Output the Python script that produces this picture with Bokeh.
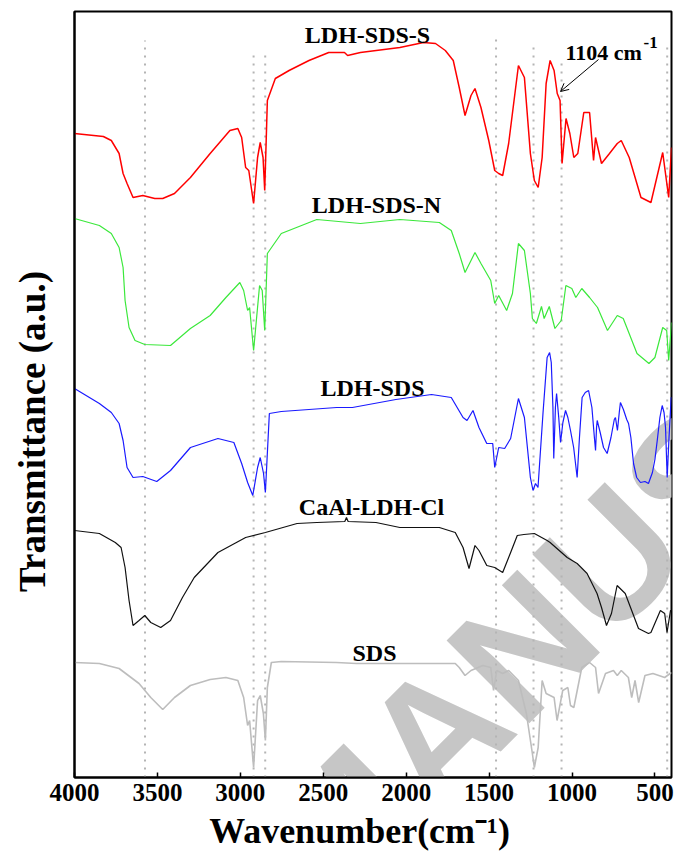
import math
from bokeh.plotting import figure
from bokeh.models import Range1d, FixedTicker, Label, Arrow, OpenHead
from bokeh.embed import file_html
from bokeh.resources import INLINE

# ---------------- data (wavenumber in cm-1, transmittance in a.u., offset stacked) -------------
red_w = [4000,3826,3778,3731,3707,3683,3647,3588,3516,3468,3397,3301,3182,3063,3015,2992,2968,2949,2920,2896,
         2880,2863,2853,2837,2789,2706,2586,2467,2372,2353,2276,2038,1895,1823,1764,1716,1680,1645,1609,1585,
         1549,1502,1466,1442,1418,1382,1323,1287,1251,1227,1204,1180,1156,1132,1108,1089,1072,1060,1036,1013,
         989,965,929,894,870,858,822,774,727,703,655,584,524,453,417,400]
red_t = [644,641,637,624,604,594,580,582,579,579,584,600,624,647,649,640,610,607,574,620,
         635,620,587,677,699,707,717,725,725,722,725,730,735,734,727,717,690,662,682,689,
         670,637,607,604,602,634,712,700,624,597,590,620,694,717,707,684,677,614,659,644,
         620,624,665,665,617,640,614,624,634,637,620,580,575,625,580,630]

green_w = [4000,3850,3778,3731,3707,3695,3671,3635,3576,3421,3301,3182,3087,3003,2980,2956,2944,2920,2884,2868,
           2853,2837,2753,2539,2276,2038,1800,1728,1680,1645,1585,1549,1490,1466,1442,1394,1359,1323,1287,1251,
           1239,1215,1184,1168,1137,1103,1065,1037,1001,977,941,894,846,786,727,691,608,536,500,453,
           429,417,400]
green_t = [559,552,544,530,510,477,450,437,433,432,449,462,480,495,487,467,470,427,492,487,
           447,524,544,558,554,558,555,547,524,505,525,514,497,474,482,467,484,534,527,484,
           459,454,471,459,471,449,457,492,489,480,489,480,470,447,462,459,424,414,420,450,
           447,417,455]

blue_w = [4000,3850,3778,3731,3707,3683,3647,3588,3504,3421,3301,3135,3039,2992,2956,2925,2896,2880,2860,2849,
          2825,2753,2419,2324,2062,1847,1728,1657,1633,1597,1561,1514,1478,1466,1442,1406,1370,1323,1287,1251,
          1235,1220,1205,1175,1150,1135,1125,1115,1110,1100,1093,1080,1069,1055,1039,1025,1009,990,969,955,
          939,920,900,880,865,858,852,848,830,810,788,765,745,738,726,715,708,690,670,659,
          645,629,610,587,560,539,515,500,486,470,456,445,436,426,415,402,400]
blue_t = [389,374,365,354,337,310,300,301,296,307,330,339,335,314,295,282,310,320,304,285,
          364,366,370,370,378,383,380,360,357,367,350,334,334,310,330,329,339,379,360,300,
          287,294,290,364,420,425,415,370,319,370,384,360,335,355,367,360,347,330,300,340,
          380,385,387,370,340,327,350,357,345,330,324,340,358,360,347,365,375,368,358,354,
          340,314,300,295,296,294,305,318,337,360,372,365,350,300,340,380,380]

black_w = [4000,3850,3754,3719,3695,3671,3647,3611,3576,3540,3480,3421,3349,3278,3135,2968,2849,2658,2539,2370,
           2360,2350,2182,2038,1800,1704,1657,1621,1585,1561,1514,1466,1418,1370,1330,1290,1227,1150,1132,1029,
           969,909,849,822,792,762,728,679,647,599,539,524,467,441,427,406,400]
black_t = [247,244,235,230,210,177,152,157,162,155,150,157,180,200,225,240,245,254,255,256,
           260,256,255,250,250,245,230,209,232,227,212,210,205,225,242,243,244,237,235,220,
           214,204,184,170,152,164,192,184,170,149,144,145,167,164,145,167,167]

sds_w = [4000,3850,3731,3611,3540,3468,3397,3301,3182,3087,3015,2980,2956,2944,2920,2896,2880,2861,2849,2837,
         2813,2753,2420,2300,1943,1704,1680,1645,1609,1538,1490,1473,1454,1418,1382,1323,1275,1239,1227,1204,
         1180,1156,1108,1090,1056,1025,1009,989,941,894,858,840,798,750,727,703,660,640,620,598,
         560,512,441,400]
sds_t = [115,114,109,94,80,68,80,92,98,100,97,80,52,57,10,77,82,64,37,90,
         115,116,115,114,114,114,110,102,107,112,110,87,107,104,107,97,64,24,10,30,
         97,84,80,57,87,90,72,70,110,115,110,84,104,107,102,107,100,80,97,75,
         102,104,100,105]

series_names = ["LDH-SDS-S", "LDH-SDS-N", "LDH-SDS", "CaAl-LDH-Cl", "SDS"]
marker_w = [3575, 2920, 2850, 1458, 1232, 1063, 426]
tick_values = [4000, 3500, 3000, 2500, 2000, 1500, 1000, 500]

# ---------------- layout helpers (pixel -> data for annotations) ----------------
FL, FR, FT, FB = 74, 671, 11, 777
X0, X1 = 4000, 400
def xd(px):
    return X0 - (px - FL) * (X0 - X1) / (FR - FL)
def yd(py):
    return FB - py

SERIF = "Liberation Serif"
NB = "\u00a0"

p = figure(width=678, height=854, x_range=Range1d(X0, X1), y_range=Range1d(0, FB - FT),
           output_backend="svg", toolbar_location=None,
           min_border_left=FL, min_border_right=678 - FR, min_border_top=FT, min_border_bottom=854 - FB)
p.background_fill_color = "white"
p.border_fill_color = "white"
p.xgrid.visible = False
p.ygrid.visible = False
p.outline_line_color = "black"
p.outline_line_width = 2

p.xaxis.ticker = FixedTicker(ticks=tick_values)
p.xaxis.major_tick_in = 5
p.xaxis.major_tick_out = 0
p.xaxis.major_tick_line_width = 1.5
p.xaxis.minor_tick_line_color = None
p.xaxis.axis_line_width = 2
p.xaxis.major_label_text_font = SERIF
p.xaxis.major_label_text_font_style = "bold"
p.xaxis.major_label_text_font_size = "25px"
p.xaxis.major_label_text_color = "black"
p.xaxis.major_label_standoff = 6
p.xaxis.axis_label = "Wavenumber(cm\u207b\u00b9)" + NB * 3
p.xaxis.axis_label_text_font = SERIF
p.xaxis.axis_label_text_font_style = "bold"
p.xaxis.axis_label_text_font_size = "36px"
p.xaxis.axis_label_text_color = "black"
p.xaxis.axis_label_standoff = 7

p.yaxis.ticker = FixedTicker(ticks=[])
p.yaxis.major_label_text_font_size = "0px"
p.yaxis.major_label_standoff = 0
p.yaxis.major_tick_in = 0
p.yaxis.major_tick_out = 0
p.yaxis.minor_tick_line_color = None
p.yaxis.major_tick_line_color = None
p.yaxis.axis_line_width = 2
p.yaxis.axis_label = "Transmittance (a.u.)" + NB * 8
p.yaxis.axis_label_text_font = SERIF
p.yaxis.axis_label_text_font_style = "bold"
p.yaxis.axis_label_text_font_size = "37px"
p.yaxis.axis_label_text_color = "black"
p.yaxis.axis_label_standoff = 22

# watermark (behind everything)
wm = Label(x=xd(292), y=yd(876), text="MANUS", angle=math.pi / 4,
           text_font="Liberation Sans", text_font_style="bold", text_font_size="170px",
           text_color="#c6c6c6", text_align="left", text_baseline="alphabetic", level="underlay")
p.add_layout(wm)

# dotted marker lines
marker_top_px = [40, 55, 53, 39, 42, 57, 43]
p.segment(x0=marker_w, x1=marker_w, y0=[0] * len(marker_w), y1=[yd(t) for t in marker_top_px],
          line_color="#b4b4b4", line_width=2, line_dash="2 6")

# spectra
p.line(sds_w, sds_t, line_color="#bdbdbd", line_width=1.6)
p.line(black_w, black_t, line_color="#111111", line_width=1.2)
p.line(blue_w, blue_t, line_color="#1a1aff", line_width=1.2)
p.line(green_w, green_t, line_color="#3be83b", line_width=1.2)
p.line(red_w, red_t, line_color="#ff0000", line_width=1.5)

# series labels
label_pos = [(367, 34), (376, 204), (372, 387), (371, 506), (374, 652)]
for name, (cx, by) in zip(series_names, label_pos):
    p.add_layout(Label(x=xd(cx), y=yd(by), text=name, text_font=SERIF, text_font_style="bold",
                       text_font_size="24px", text_color="black", text_align="center",
                       text_baseline="alphabetic"))

# 1104 cm-1 annotation
p.add_layout(Label(x=xd(565), y=yd(52), text="1104 cm", text_font=SERIF, text_font_style="bold",
                   text_font_size="22px", text_color="black", text_align="left", text_baseline="alphabetic"))
p.add_layout(Label(x=xd(643), y=yd(42), text="-1", text_font=SERIF, text_font_style="bold",
                   text_font_size="17px", text_color="black", text_align="left", text_baseline="alphabetic"))
p.add_layout(Arrow(end=OpenHead(size=8, line_width=1, line_color="black"),
                   x_start=xd(598), y_start=yd(59), x_end=xd(560), y_end=yd(91),
                   line_width=1, line_color="black"))

open("out.html", "w").write(file_html(p, INLINE))
